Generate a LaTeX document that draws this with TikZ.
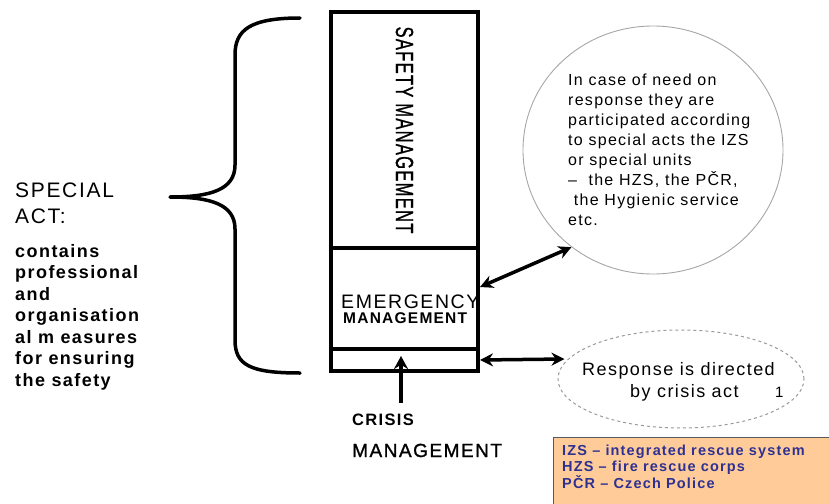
\documentclass[tikz,border=0pt]{standalone}
\usepackage{fontspec}
\setmainfont{Liberation Sans}[LetterSpace=8]
\usetikzlibrary{arrows.meta,calc,shapes.geometric}

\definecolor{notefill}{HTML}{FFCC99}
\definecolor{noteedge}{HTML}{5A5A5A}
\definecolor{noteink}{HTML}{2E3192}

\newcommand{\fs}[2]{\fontsize{#1}{#2}\selectfont}

\begin{document}
\begin{tikzpicture}[x=1pt,y=-1pt,
  block/.style={draw, line width=4pt, minimum width=147pt, inner sep=0pt},
  txt/.style={inner sep=0pt, anchor=base west, align=left},
  dblarrow/.style={line width=3.5pt, {Stealth[length=13pt,width=13pt]}-{Stealth[length=13pt,width=13pt]}},
  uparrow/.style={line width=4pt, -{Stealth[length=13pt,width=14pt]}},
  bracestroke/.style={line width=3.5pt, line cap=round, line join=round}
]
\useasboundingbox (0,0) rectangle (829,503);

% stacked management levels
\node[block, minimum height=236pt] (safety) at (404.5,130) {};
\node[block, minimum height=101pt] (emerg)  at (404.5,298.5) {};
\node[block, minimum height=22pt]  (crisis) at (404.5,360) {};

\node[inner sep=0pt, rotate=-90] (safetylbl) at (safety.center |- 0,130)
  {\scalebox{1}[1.5]{\fs{16.5}{18}\addfontfeature{FakeBold=1.2}SAFETY MANAGEMENT}};

\node[txt] (emerglbl1) at (341,308) {\fs{19.5}{20}EMERGENCY};
\node[txt] (emerglbl2) at (343,323.5) {\fs{15.5}{18}\bfseries MANAGEMENT};

% crisis management label and its arrow
\node[txt] (crislbl1) at (352,425) {\fs{16.5}{18}\bfseries CRISIS};
\node[txt] (crislbl2) at (352,457) {\fs{19}{20}\addfontfeature{FakeBold=1.2}MANAGEMENT};
\coordinate (arrtail) at (401,403);
\draw[uparrow] (arrtail) -- (arrtail |- crisis.south) -- ++(0,-17);

% curly brace
\coordinate (bt) at (300,18);
\coordinate (bb) at (300,373);
\coordinate (bm) at (170,197);
\draw[bracestroke] (bt) .. controls (250,18) and (235,30) .. (235,55)
  -- (235,165) .. controls (235,190) and (210,197) .. (bm)
  .. controls (210,197) and (235,204) .. (235,229)
  -- (235,340) .. controls (235,365) and (250,373) .. (bb);

% special act text (multi-line nodes sit on their last baseline)
\node[txt, font=\fs{21}{26}] (spec) at (15,223) {SPECIAL\\ACT:};
\node[txt, font=\fs{18}{21.5}\bfseries] (specbody) at (15,386)
  {contains\\professional\\and\\organisation\\al m easures\\for ensuring\\the safety};

% participation bubble
\node[ellipse, draw=gray!70, line width=0.9pt, minimum width=260pt, minimum height=248pt, inner sep=0pt] (bubble) at (653,150) {};
\node[txt, font=\fs{16}{20}] (bubbletxt) at (568,225)
  {In case of need on\\response they are\\participated according\\to special acts the IZS\\or special units\\–\ \ the HZS, the PČR,\\\ the Hygienic service\\etc.};

% crisis act response
\node[ellipse, draw=gray!80, dashed, line width=1pt, minimum width=246pt, minimum height=98pt, inner sep=0pt] (resp) at (681,379) {};
\node[txt] (resptxt1) at (582,375) {\fs{18}{20}Response is directed};
\node[txt] (resptxt2) at (630,397) {\fs{18}{20}by crisis act};
\node[txt] (respmark) at (775,397) {\fs{15}{16}1};

% connectors
\draw[dblarrow] ([yshift=11.5pt]emerg.east) -- (bubble.230);
\draw[dblarrow] (crisis.east) -- ($(resp.west)+(7,-20)$);

% abbreviations
\node[draw=noteedge, fill=notefill, line width=1.2pt, anchor=north west, minimum width=290pt, minimum height=80pt] (legend) at (553,437) {};
\node[txt, text=noteink, font=\fs{14.5}{16.5}\bfseries] (legendtxt) at (562,488)
  {IZS – integrated rescue system\\HZS – fire rescue corps\\PČR – Czech Police};
\end{tikzpicture}
\end{document}
